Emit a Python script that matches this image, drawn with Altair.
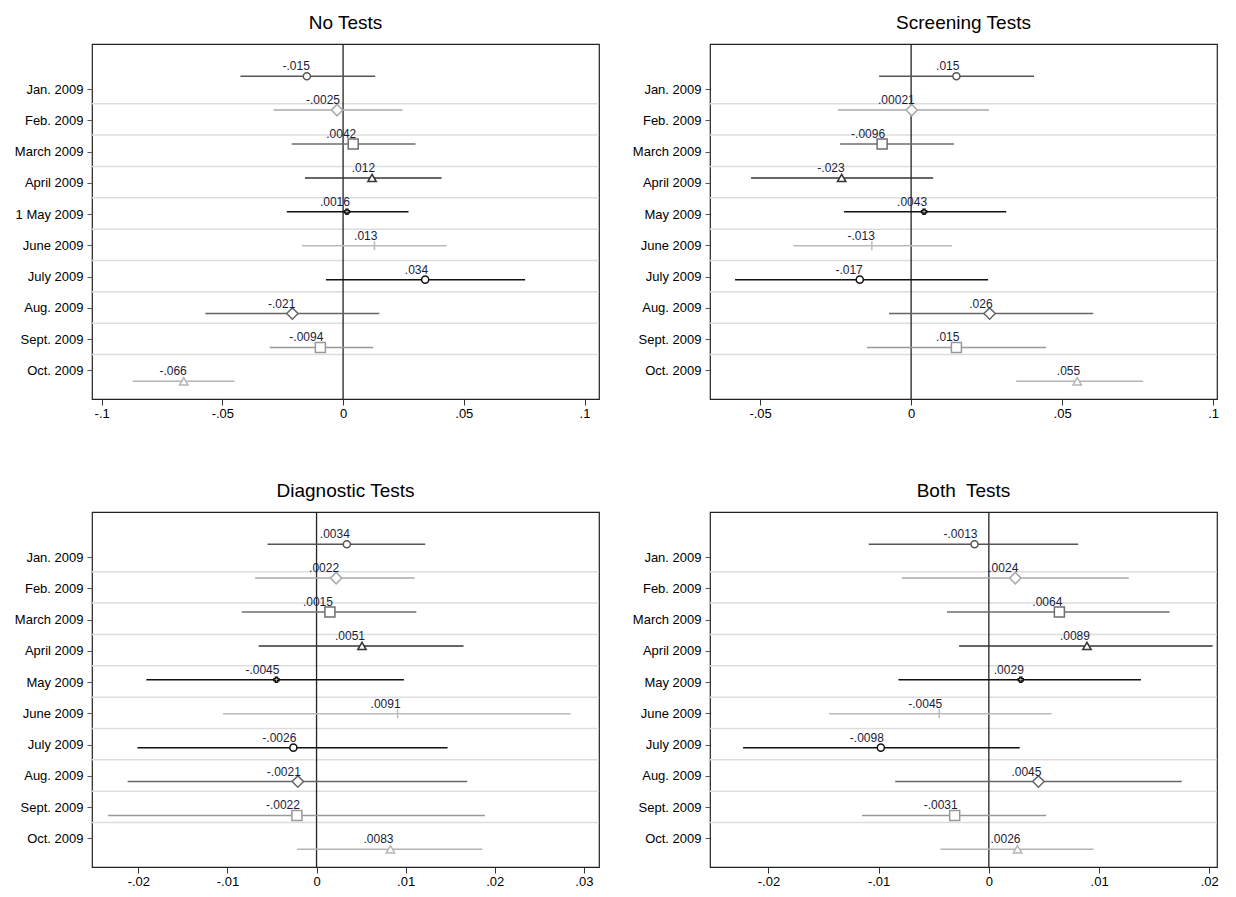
import altair as alt
import pandas as pd

MONTHS = ["Jan. 2009", "Feb. 2009", "March 2009", "April 2009", "May 2009",
          "June 2009", "July 2009", "Aug. 2009", "Sept. 2009", "Oct. 2009"]
MONTHS_FIRST = ["Jan. 2009", "Feb. 2009", "March 2009", "April 2009", "1 May 2009",
                "June 2009", "July 2009", "Aug. 2009", "Sept. 2009", "Oct. 2009"]

NO_EST = [-0.015, -0.0025, 0.0042, 0.012, 0.0016, 0.013, 0.034, -0.021, -0.0094, -0.066]
NO_LO = [-0.0425, -0.0288, -0.0213, -0.0158, -0.0233, -0.0171, -0.0071, -0.0571, -0.0304, -0.0871]
NO_HI = [0.0133, 0.0246, 0.030, 0.0408, 0.0271, 0.0429, 0.0754, 0.015, 0.0125, -0.045]
NO_LBL = ["-.015", "-.0025", ".0042", ".012", ".0016", ".013", ".034", "-.021", "-.0094", "-.066"]

SC_EST = [0.015, 0.00021, -0.0096, -0.023, 0.0043, -0.013, -0.017, 0.026, 0.015, 0.055]
SC_LO = [-0.0106, -0.0242, -0.0235, -0.053, -0.0222, -0.039, -0.0583, -0.0073, -0.0146, 0.0348]
SC_HI = [0.0407, 0.0258, 0.0142, 0.0073, 0.0315, 0.0136, 0.0255, 0.0603, 0.0447, 0.0768]
SC_LBL = [".015", ".00021", "-.0096", "-.023", ".0043", "-.013", "-.017", ".026", ".015", ".055"]

DX_EST = [0.0034, 0.0022, 0.0015, 0.0051, -0.0045, 0.0091, -0.0026, -0.0021, -0.0022, 0.0083]
DX_LO = [-0.0055, -0.0069, -0.0084, -0.0065, -0.0191, -0.0105, -0.0201, -0.0212, -0.0234, -0.0022]
DX_HI = [0.0122, 0.011, 0.0112, 0.0165, 0.0098, 0.0285, 0.0147, 0.0169, 0.0189, 0.0186]
DX_LBL = [".0034", ".0022", ".0015", ".0051", "-.0045", ".0091", "-.0026", "-.0021", "-.0022", ".0083"]

BO_EST = [-0.0013, 0.0024, 0.0064, 0.0089, 0.0029, -0.0045, -0.0098, 0.0045, -0.0031, 0.0026]
BO_LO = [-0.0109, -0.0079, -0.0038, -0.0027, -0.0082, -0.0145, -0.0223, -0.0085, -0.0115, -0.0044]
BO_HI = [0.0081, 0.0127, 0.0164, 0.0203, 0.0138, 0.0057, 0.0028, 0.0175, 0.0052, 0.0095]
BO_LBL = ["-.0013", ".0024", ".0064", ".0089", ".0029", "-.0045", "-.0098", ".0045", "-.0031", ".0026"]

SHAPES = ["circle", "diamond", "square", "triangle-up", "cross",
          "M0,-1L0,1", "circle", "diamond", "square", "triangle-up"]
LINE_COLORS = ["#555555", "#aaaaaa", "#6e6e6e", "#333333", "#111111",
               "#bbbbbb", "#111111", "#666666", "#999999", "#b5b5b5"]
SIZES = [50, 130, 100, 70, 25, 80, 50, 130, 100, 70]

FONT = "Liberation Sans"
W, H = 507, 355


def panel(title, est, lo, hi, lbl, months, domain, ticks):
    rows = list(range(len(months)))
    df = pd.DataFrame({"row": rows, "est": est, "lo": lo, "hi": hi, "lbl": lbl,
                       "col": LINE_COLORS, "shape": SHAPES, "size": SIZES})
    grid = pd.DataFrame({"g": [0.81 + 0.925 * i for i in range(9)]})
    ysc = alt.Scale(domain=[-0.95, 9.52], reverse=True, nice=False, zero=False)
    xsc = alt.Scale(domain=domain, nice=False, zero=False)
    tickvals = [round(0.38 + 0.922 * i, 3) for i in rows]
    lab_expr = "[" + ",".join(f"'{m}'" for m in months) + "][round((datum.value-0.38)/0.922)]"
    yax = alt.Axis(values=tickvals, labelExpr=lab_expr, grid=False, title=None,
                   labelFont=FONT, labelFontSize=13, labelColor="#000", domain=False,
                   tickColor="#555", tickSize=5, labelPadding=4, labelOverlap=False,
                   labelBound=False, labelFlush=False)
    xax = alt.Axis(values=ticks, format="~g",
                   labelExpr="replace(replace(datum.label,'0.','.'),'−','-')",
                   grid=False, title=None, labelFont=FONT, labelFontSize=13,
                   labelColor="#000", domain=False, tickColor="#333", tickSize=6,
                   labelOverlap=False, labelFlush=False)

    Y = lambda f: alt.Y(f, scale=ysc, axis=yax)
    X = lambda f: alt.X(f, scale=xsc, axis=xax)
    gl = alt.Chart(grid).mark_rule(color="#dddddd", strokeWidth=1.5).encode(y=Y("g:Q"))
    zero = alt.Chart(pd.DataFrame({"z": [0.0]})).mark_rule(color="#222", strokeWidth=1.3).encode(
        x=X("z:Q"))
    bars = alt.Chart(df).mark_rule(strokeWidth=1.5).encode(
        x=X("lo:Q"), x2="hi:Q", y=Y("row:Q"), color=alt.Color("col:N", scale=None))
    pts = alt.Chart(df).mark_point(fill="white", fillOpacity=1, strokeWidth=1.5, opacity=1).encode(
        x=X("est:Q"), y=Y("row:Q"),
        color=alt.Color("col:N", scale=None), shape=alt.Shape("shape:N", scale=None),
        size=alt.Size("size:Q", scale=None))
    txt = alt.Chart(df).mark_text(align="right", baseline="bottom", dx=3, dy=-3,
                                  font=FONT, fontSize=12, color="#1c1c3a").encode(
        x=X("est:Q"), y=Y("row:Q"), text="lbl:N")
    return alt.layer(gl, zero, bars, pts, txt).properties(
        width=W, height=H,
        title=alt.TitleParams(title, font=FONT, fontSize=19, fontWeight="normal", offset=10))


p1 = panel("No Tests", NO_EST, NO_LO, NO_HI, NO_LBL, MONTHS_FIRST,
           [-0.104, 0.106], [-0.1, -0.05, 0, 0.05, 0.1])
p2 = panel("Screening Tests", SC_EST, SC_LO, SC_HI, SC_LBL, MONTHS,
           [-0.0666, 0.1013], [-0.05, 0, 0.05, 0.1])
p3 = panel("Diagnostic Tests", DX_EST, DX_LO, DX_HI, DX_LBL, MONTHS,
           [-0.0252, 0.0317], [-0.02, -0.01, 0, 0.01, 0.02, 0.03])
p4 = panel("Both\u00a0 Tests", BO_EST, BO_LO, BO_HI, BO_LBL, MONTHS,
           [-0.0253, 0.0207], [-0.02, -0.01, 0, 0.01, 0.02])

chart = alt.vconcat(
    alt.hconcat(p1, p2, spacing=30),
    alt.hconcat(p3, p4, spacing=30),
    spacing=60,
).configure_view(stroke="#222222", strokeWidth=1.2)

chart.save("out.html", embed_options={"renderer": "svg", "actions": False})
